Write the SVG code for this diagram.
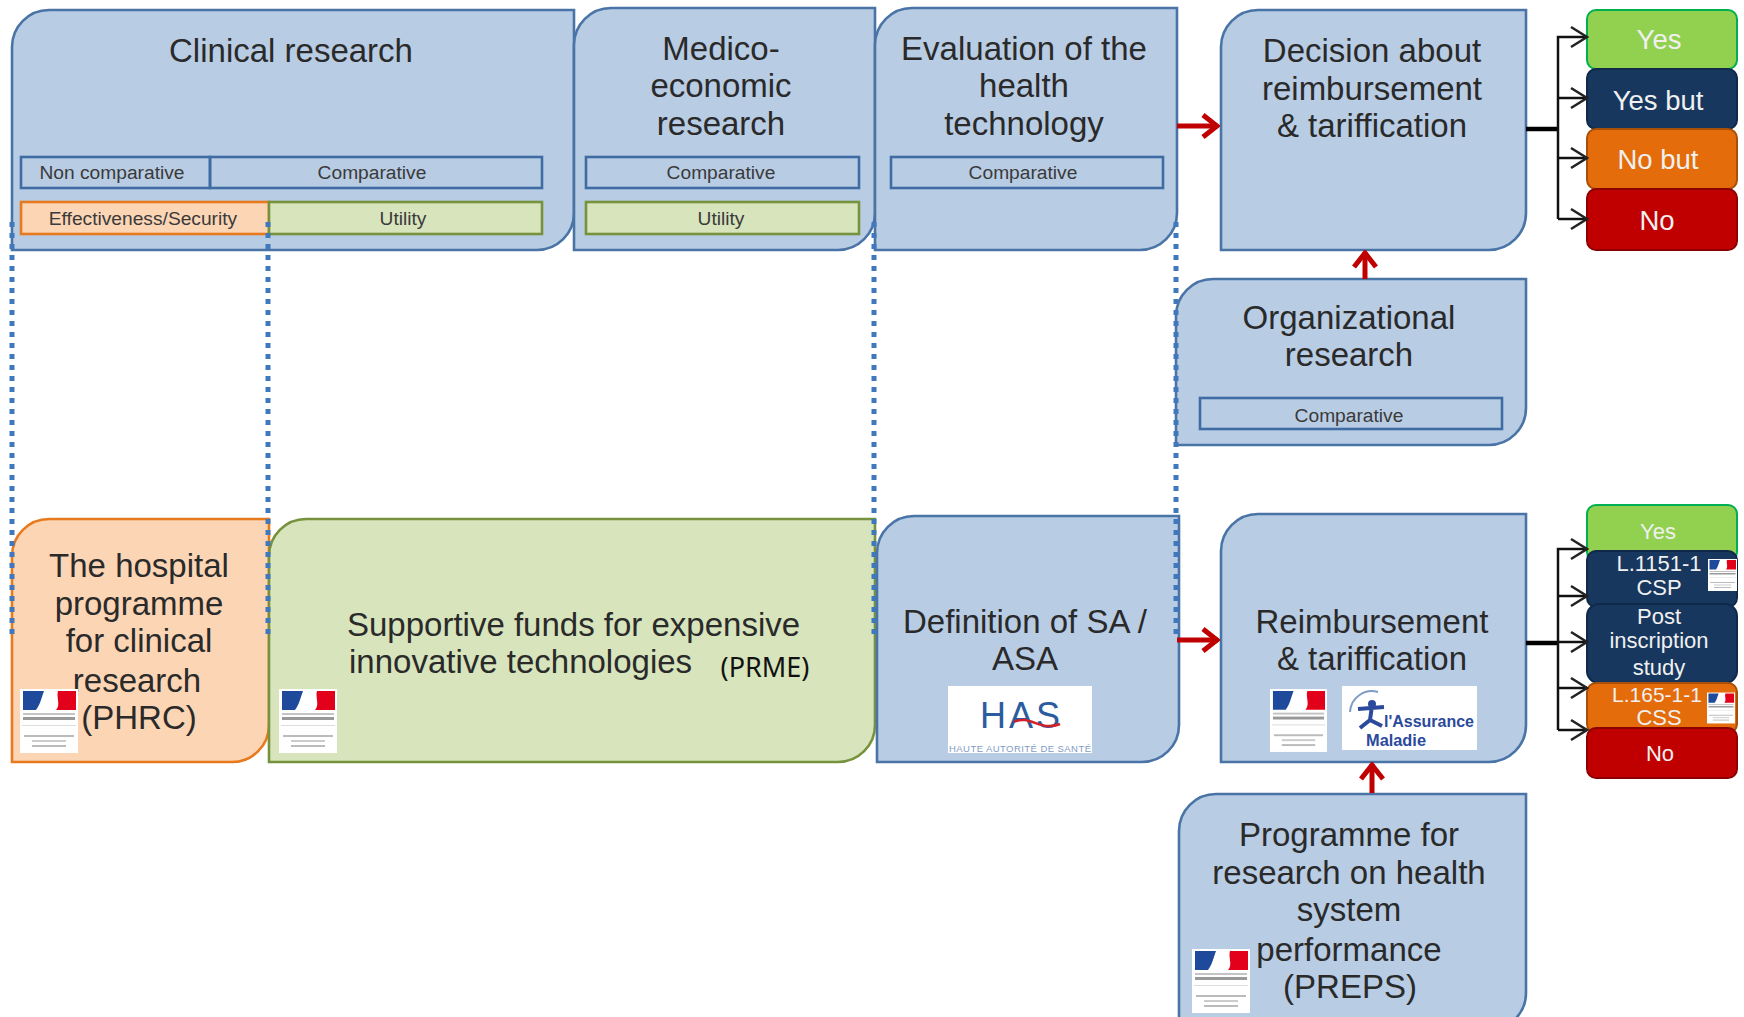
<svg xmlns="http://www.w3.org/2000/svg" xmlns:xlink="http://www.w3.org/1999/xlink" width="1744" height="1017" viewBox="0 0 1744 1017">
<style>
text{font-family:"Liberation Sans",Arial,sans-serif;text-anchor:middle;fill:#2a2a2a}
.big{font-size:33px}
.sm{font-size:19.2px;fill:#3a3a3a}
.box{fill:#b8cce4;stroke:#4a74a6;stroke-width:2.6}
.or{fill:#fcd5b5;stroke:#e87a1e;stroke-width:2.6}
.gr{fill:#d7e4bc;stroke:#76923c;stroke-width:2.6}
.bar{fill:none;stroke:#3f6ca3;stroke-width:2.6}
.out text{fill:#f0f0f0}
.o1{font-size:27.5px}
.o2{font-size:22px}
.dot{fill:none;stroke:#3f78bd;stroke-width:5;stroke-dasharray:5 6}
.red{fill:none;stroke:#c00000;stroke-width:5}
.blk{fill:none;stroke:#111;stroke-width:2.5}
.thick{fill:none;stroke:#000;stroke-width:4.5}
</style>
<defs>
<marker id="ar" markerUnits="userSpaceOnUse" markerWidth="26" markerHeight="30" refX="24" refY="15" orient="auto"><path d="M9 4 L23 15 L9 26" fill="none" stroke="#c00000" stroke-width="5"/></marker>
<marker id="ab" markerUnits="userSpaceOnUse" markerWidth="26" markerHeight="30" refX="24" refY="15" orient="auto"><path d="M8 5 L24 15 L8 25" fill="none" stroke="#222" stroke-width="2.5"/></marker>
<symbol id="flag" viewBox="0 0 58 64">
<rect width="58" height="64" fill="#fff"/>
<path d="M3 2H24C21 10 20 16 16 21H3Z" fill="#1f4a9c"/>
<path d="M38 2H56V21H36C41 16 36 8 38 2Z" fill="#e3001b"/>
<rect x="3" y="24" width="52" height="2" fill="#c4c4c4"/>
<rect x="3" y="28" width="52" height="3" fill="#999"/>
<rect x="2" y="36" width="54" height="1" fill="#ddd"/>
<rect x="4" y="46" width="50" height="2" fill="#bbb"/>
<rect x="12" y="51" width="34" height="2" fill="#ccc"/>
<rect x="12" y="56" width="34" height="2" fill="#bbb"/>
</symbol>
</defs>

<g id="clinical-research">
<path class="box" d="M49 10H574V213A37 37 0 0 1 537 250H12V47A37 37 0 0 1 49 10Z"/>
<text class="big" x="291" y="62">Clinical research</text>
<rect class="bar" x="21" y="157" width="189" height="31"/>
<text class="sm" x="112" y="179">Non comparative</text>
<rect class="bar" x="210" y="157" width="332" height="31"/>
<text class="sm" x="372" y="179">Comparative</text>
<rect class="or" x="21" y="202" width="248" height="32"/>
<text class="sm" x="143" y="225">Effectiveness/Security</text>
<rect class="gr" x="269" y="202" width="273" height="32"/>
<text class="sm" x="403" y="225">Utility</text>
</g>
<g id="medico-economic-research">
<path class="box" d="M611 8H875V213A37 37 0 0 1 838 250H574V45A37 37 0 0 1 611 8Z"/>
<text class="big" x="721" y="60">Medico-</text>
<text class="big" x="721" y="97">economic</text>
<text class="big" x="721" y="135">research</text>
<rect class="bar" x="586" y="157" width="273" height="31"/>
<text class="sm" x="721" y="179">Comparative</text>
<rect class="gr" x="586" y="202" width="273" height="32"/>
<text class="sm" x="721" y="225">Utility</text>
</g>
<g id="evaluation">
<path class="box" d="M912 8H1177V213A37 37 0 0 1 1140 250H875V45A37 37 0 0 1 912 8Z"/>
<text class="big" x="1024" y="60">Evaluation of the</text>
<text class="big" x="1024" y="97">health</text>
<text class="big" x="1024" y="135">technology</text>
<rect class="bar" x="891" y="157" width="272" height="31"/>
<text class="sm" x="1023" y="179">Comparative</text>
</g>
<g id="decision">
<path class="box" d="M1258 10H1526V213A37 37 0 0 1 1489 250H1221V47A37 37 0 0 1 1258 10Z"/>
<text class="big" x="1372" y="62">Decision about</text>
<text class="big" x="1372" y="100">reimbursement</text>
<text class="big" x="1372" y="137">&amp; tariffication</text>
</g>
<g id="organizational-research">
<path class="box" d="M1213 279H1526V408A37 37 0 0 1 1489 445H1176V316A37 37 0 0 1 1213 279Z"/>
<text class="big" x="1349" y="329">Organizational</text>
<text class="big" x="1349" y="366">research</text>
<rect class="bar" x="1200" y="398" width="302" height="31"/>
<text class="sm" x="1349" y="422">Comparative</text>
</g>
<g id="phrc">
<path class="or" d="M49 519H269V725A37 37 0 0 1 232 762H12V556A37 37 0 0 1 49 519Z"/>
<text class="big" x="139" y="577">The hospital</text>
<text class="big" x="139" y="615">programme</text>
<text class="big" x="139" y="652">for clinical</text>
<text class="big" x="137" y="692">research</text>
<text class="big" x="139" y="729">(PHRC)</text>
<use href="#flag" x="20" y="689" width="58" height="64"/>
</g>
<g id="prme">
<path class="gr" d="M306 519H875V725A37 37 0 0 1 838 762H269V556A37 37 0 0 1 306 519Z"/>
<text class="big" style="text-anchor:start" x="347" y="636">Supportive funds for expensive</text>
<text class="big" style="text-anchor:start" x="349" y="673">innovative technologies</text>
<text style="font-family:'Noto Sans',sans-serif;font-size:27px;fill:#111" x="765" y="677">(PRME)</text>
<use href="#flag" x="279" y="689" width="58" height="64"/>
</g>
<g id="definition-sa-asa">
<path class="box" d="M914 516H1179V725A37 37 0 0 1 1142 762H877V553A37 37 0 0 1 914 516Z"/>
<text class="big" x="1025" y="633">Definition of SA /</text>
<text class="big" x="1025" y="670">ASA</text>
<rect x="948" y="686" width="144" height="67" fill="#fff"/>
<text x="1020" y="728" style="font-size:36px;fill:#2b5c9e" textLength="80" lengthAdjust="spacing">HAS</text>
<path d="M1014 722C1030 714 1040 732 1060 724" fill="none" stroke="#d0202a" stroke-width="2.5"/>
<text x="1020" y="752" style="font-size:9.5px;fill:#7f9cc4" textLength="142" lengthAdjust="spacing">HAUTE AUTORITÉ DE SANTÉ</text>
</g>
<g id="reimbursement">
<path class="box" d="M1258 514H1526V725A37 37 0 0 1 1489 762H1221V551A37 37 0 0 1 1258 514Z"/>
<text class="big" x="1372" y="633">Reimbursement</text>
<text class="big" x="1372" y="670">&amp; tariffication</text>
<use href="#flag" x="1270" y="688" width="57" height="65"/>
<rect x="1342" y="686" width="135" height="64" fill="#fff"/>
<path d="M1350 712A22 22 0 0 1 1378 692" fill="none" stroke="#7f9cc4" stroke-width="2"/>
<circle cx="1372" cy="704" r="4" fill="#2b4a9c"/>
<path d="M1358 709L1384 707M1372 706L1370 720M1370 720L1360 728M1370 720L1382 726" fill="none" stroke="#2b4a9c" stroke-width="4"/>
<text x="1429" y="727" style="font-size:17px;font-weight:bold;fill:#2b4a9c" textLength="90" lengthAdjust="spacingAndGlyphs">l'Assurance</text>
<text x="1396" y="746" style="font-size:17px;font-weight:bold;fill:#2b4a9c" textLength="60" lengthAdjust="spacingAndGlyphs">Maladie</text>
</g>
<g id="preps">
<path class="box" d="M1216 794H1526V993A37 37 0 0 1 1489 1030H1179V831A37 37 0 0 1 1216 794Z"/>
<text class="big" x="1349" y="846">Programme for</text>
<text class="big" x="1349" y="884">research on health</text>
<text class="big" x="1349" y="921">system</text>
<text class="big" x="1349" y="961">performance</text>
<text class="big" x="1350" y="998">(PREPS)</text>
<use href="#flag" x="1192" y="948" width="58" height="66"/>
</g>

<g id="outcomes-top" class="out">
<g id="o-yes"><rect x="1587" y="10" width="150" height="59" rx="9" fill="#92d050" stroke="#00b050" stroke-width="2"/><text class="o1" x="1659" y="49">Yes</text></g>
<g id="o-yes-but"><rect x="1587" y="69" width="150" height="60" rx="9" fill="#17375e" stroke="#10294a" stroke-width="2"/><text class="o1" x="1658" y="110">Yes but</text></g>
<g id="o-no-but"><rect x="1587" y="129" width="150" height="60" rx="9" fill="#e46c0a" stroke="#a85008" stroke-width="2"/><text class="o1" x="1658" y="169">No but</text></g>
<g id="o-no"><rect x="1587" y="189" width="150" height="61" rx="9" fill="#c00000" stroke="#8c0000" stroke-width="2"/><text class="o1" x="1657" y="230">No</text></g>
</g>
<g id="outcomes-bottom" class="out">
<g id="b-yes"><rect x="1587" y="505" width="150" height="56" rx="9" fill="#92d050" stroke="#00b050" stroke-width="2"/><text class="o2" x="1658" y="539">Yes</text></g>
<g id="b-l1151"><rect x="1587" y="551" width="150" height="56" rx="9" fill="#17375e" stroke="#10294a" stroke-width="2"/><text class="o2" x="1659" y="571">L.1151-1</text><text class="o2" x="1659" y="595">CSP</text><use href="#flag" x="1708" y="558" width="29" height="34"/></g>
<g id="b-post"><rect x="1587" y="604" width="150" height="79" rx="12" fill="#17375e" stroke="#10294a" stroke-width="2"/><text class="o2" x="1659" y="624">Post</text><text class="o2" x="1659" y="648">inscription</text><text class="o2" x="1659" y="675">study</text></g>
<g id="b-l165"><rect x="1587" y="683" width="150" height="50" rx="9" fill="#e46c0a" stroke="#a85008" stroke-width="2"/><text class="o2" style="font-size:21px" x="1657" y="702">L.165-1-1</text><text class="o2" x="1659" y="725">CSS</text><use href="#flag" x="1707" y="692" width="28" height="32"/></g>
<g id="b-no"><rect x="1587" y="728" width="150" height="50" rx="9" fill="#c00000" stroke="#8c0000" stroke-width="2"/><text class="o2" x="1660" y="761">No</text></g>
</g>

<g id="connectors">
<path class="dot" d="M12 222V640"/>
<path class="dot" d="M268 222V640"/>
<path class="dot" d="M874 222V640"/>
<path class="dot" d="M1176 222V640"/>
<path class="red" marker-end="url(#ar)" d="M1177 126H1218"/>
<path class="red" marker-end="url(#ar)" d="M1177 640H1218"/>
<path class="red" marker-end="url(#ar)" d="M1365 279V252"/>
<path class="red" marker-end="url(#ar)" d="M1372 793V764"/>
<path class="thick" d="M1526 129H1558"/>
<path class="blk" marker-end="url(#ab)" d="M1558 219V37H1587"/>
<path class="blk" marker-end="url(#ab)" d="M1558 98H1587"/>
<path class="blk" marker-end="url(#ab)" d="M1558 158H1587"/>
<path class="blk" marker-end="url(#ab)" d="M1558 219H1587"/>
<path class="thick" d="M1526 643H1558"/>
<path class="blk" marker-end="url(#ab)" d="M1558 730V549H1587"/>
<path class="blk" marker-end="url(#ab)" d="M1558 596H1587"/>
<path class="blk" marker-end="url(#ab)" d="M1558 642H1587"/>
<path class="blk" marker-end="url(#ab)" d="M1558 688H1587"/>
<path class="blk" marker-end="url(#ab)" d="M1558 730H1587"/>
</g>
</svg>
